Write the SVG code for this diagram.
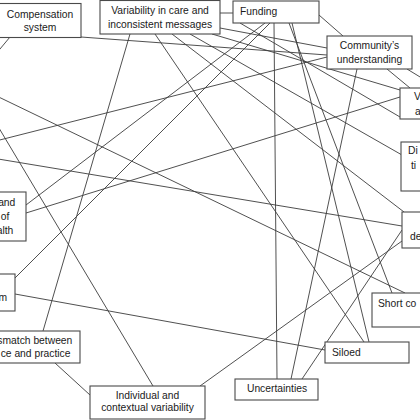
<svg xmlns="http://www.w3.org/2000/svg" width="420" height="420" viewBox="0 0 420 420">
<style>
.e{stroke:#3c3c3c;stroke-width:0.9;fill:none}
.n rect{fill:#fff;stroke:#4a4a4a;stroke-width:1.1}
.n text{font-family:"Liberation Sans",Arial,sans-serif;font-size:10.3px;fill:#1a1a1a}
.c{text-anchor:middle}
.r{text-anchor:end}
</style>
<rect width="420" height="420" fill="#fff"/>
<g id="connectors">
<line class="e" x1="10" y1="37" x2="-10" y2="61"/>
<line class="e" x1="81" y1="37" x2="327" y2="55"/>
<line class="e" x1="220" y1="13" x2="233" y2="13"/>
<line class="e" x1="220" y1="28" x2="327" y2="48"/>
<line class="e" x1="130" y1="34" x2="43" y2="331"/>
<line class="e" x1="155" y1="34" x2="364" y2="342"/>
<line class="e" x1="172" y1="34" x2="404" y2="212"/>
<line class="e" x1="319" y1="15" x2="343" y2="36"/>
<line class="e" x1="274" y1="23" x2="277" y2="379"/>
<line class="e" x1="265" y1="23" x2="26" y2="205"/>
<line class="e" x1="270" y1="23" x2="15" y2="278"/>
<line class="e" x1="292" y1="23" x2="369" y2="342"/>
<line class="e" x1="357" y1="69" x2="291" y2="379"/>
<line class="e" x1="327" y1="57" x2="-20" y2="145"/>
<line class="e" x1="387" y1="69" x2="410" y2="88"/>
<line class="e" x1="407" y1="69" x2="425" y2="80"/>
<line class="e" x1="26" y1="213" x2="400" y2="97"/>
<line class="e" x1="-20" y1="88" x2="405" y2="293"/>
<line class="e" x1="-20" y1="156" x2="402" y2="226"/>
<line class="e" x1="200" y1="386" x2="402" y2="241"/>
<line class="e" x1="302" y1="379" x2="402" y2="230"/>
<line class="e" x1="55" y1="363" x2="90" y2="395"/>
<line class="e" x1="15" y1="294" x2="325" y2="350"/>
<line class="e" x1="-10" y1="113" x2="153" y2="386"/>
<line class="e" x1="190" y1="34" x2="402" y2="155"/>
<line class="e" x1="289" y1="23" x2="392" y2="293"/>
<line class="e" x1="212" y1="34" x2="400" y2="90"/>
<line class="e" x1="240" y1="23" x2="400" y2="117"/>
</g>
<g id="compensation" class="n"><rect x="-2" y="3.5" width="83" height="34"/><text class="c" x="40" y="17.7">Compensation</text><text class="c" x="40" y="30.7">system</text></g>
<g id="variability" class="n"><rect x="100" y="0.5" width="120" height="33.5"/><text class="c" x="160" y="13.7">Variability in care and</text><text class="c" x="160" y="27.7">inconsistent messages</text></g>
<g id="funding" class="n"><rect x="233" y="1" width="86" height="22"/><text x="240" y="15">Funding</text></g>
<g id="community" class="n"><rect x="327" y="36" width="85" height="33"/><text class="c" x="369.5" y="48.7">Community’s</text><text class="c" x="369.5" y="63">understanding</text></g>
<g id="node-v" class="n"><rect x="400" y="88" width="40" height="31"/><text x="414" y="100.2">V</text><text x="415" y="115.2">a</text></g>
<g id="node-di" class="n"><rect x="401" y="142" width="40" height="49"/><text x="408" y="154.4">Di</text><text x="411" y="168.7">ti</text></g>
<g id="node-de" class="n"><rect x="402" y="212" width="40" height="36"/><text x="410" y="239.7">de</text></g>
<g id="short" class="n"><rect x="372" y="293" width="60" height="34"/><text x="378" y="307">Short co</text></g>
<g id="siloed" class="n"><rect x="325" y="342" width="84" height="21"/><text x="332" y="356">Siloed</text></g>
<g id="uncertainties" class="n"><rect x="235" y="379" width="83" height="21"/><text class="c" x="277" y="392.4">Uncertainties</text></g>
<g id="individual" class="n"><rect x="90" y="386" width="115" height="33"/><text class="c" x="147.5" y="398.7">Individual and</text><text class="c" x="147.5" y="411.4">contextual variability</text></g>
<g id="mismatch" class="n"><rect x="-25" y="331" width="105" height="32"/><text class="r" x="72.3" y="344.4">smatch between</text><text class="r" x="70.5" y="357">ce and practice</text></g>
<g id="node-health" class="n"><rect x="-40" y="192" width="66" height="49"/><text class="r" x="15.3" y="206">and</text><text class="r" x="9.3" y="219.7">of</text><text class="r" x="13.3" y="233.7">alth</text></g>
<g id="node-m" class="n"><rect x="-40" y="274" width="55" height="37"/><text class="r" x="7" y="300.7">m</text></g>
</svg>
